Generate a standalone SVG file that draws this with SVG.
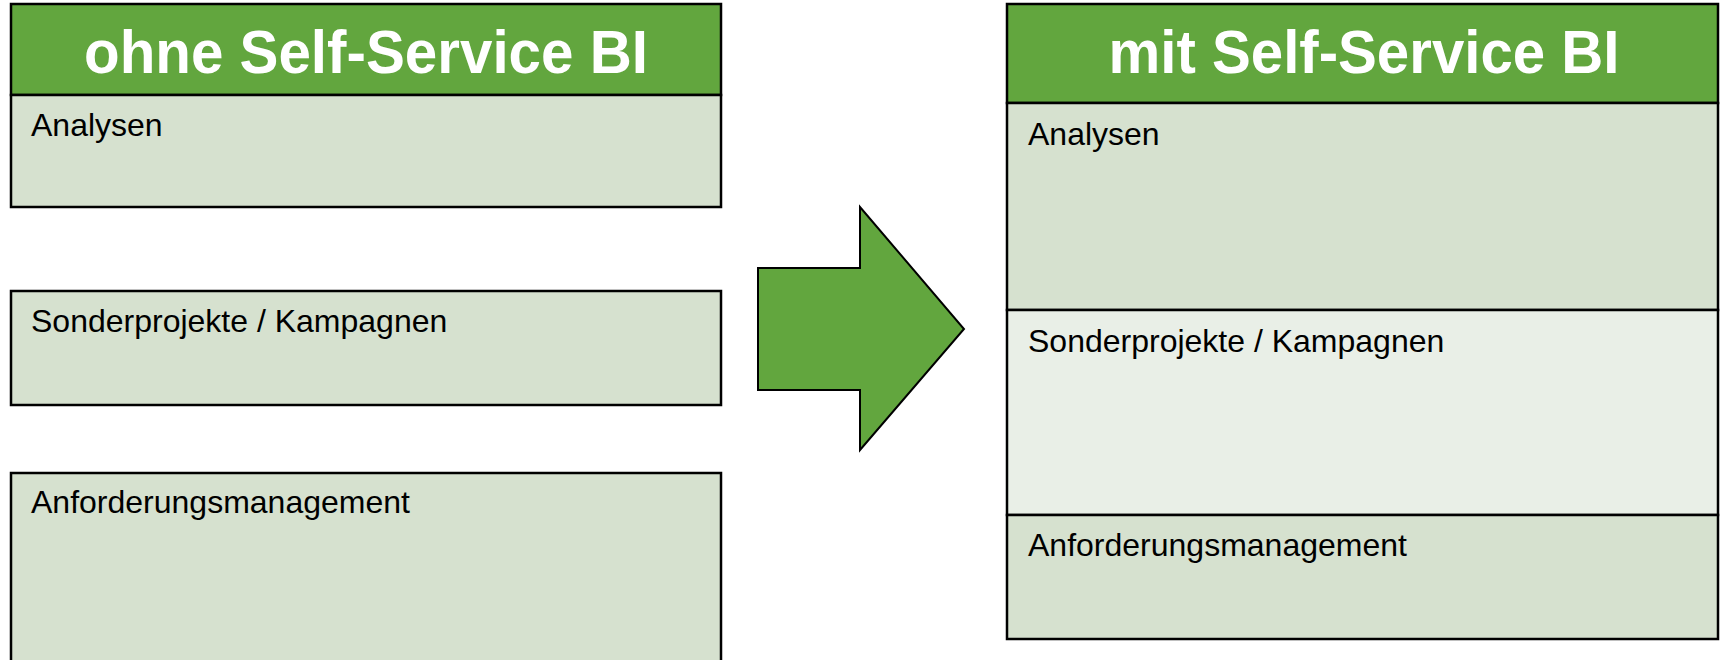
<svg xmlns="http://www.w3.org/2000/svg" width="1721" height="660" viewBox="0 0 1721 660">
<style>
.hdr{fill:#62A63E;stroke:#000;stroke-width:2.5}
.box{fill:#D6E1CF;stroke:#000;stroke-width:2.5}
.box2{fill:#E9EFE7;stroke:#000;stroke-width:2.5}
.title{font-family:"Liberation Sans",Arial,sans-serif;font-weight:bold;font-size:61px;fill:#fff;text-anchor:middle}
.lbl{font-family:"Liberation Sans",Arial,sans-serif;font-size:32px;fill:#000}
</style>
<rect width="1721" height="660" fill="#fff"/>
<g id="left-header">
<rect class="hdr" x="11" y="4" width="710" height="91"/>
<text class="title" x="366" y="73" textLength="564" lengthAdjust="spacingAndGlyphs">ohne Self-Service BI</text>
</g>
<g id="left-analysen">
<rect class="box" x="11" y="95" width="710" height="112"/>
<text class="lbl" x="31" y="136">Analysen</text>
</g>
<g id="left-sonderprojekte">
<rect class="box" x="11" y="291" width="710" height="114"/>
<text class="lbl" x="31" y="332">Sonderprojekte / Kampagnen</text>
</g>
<g id="left-anforderung">
<rect class="box" x="11" y="473" width="710" height="200"/>
<text class="lbl" x="31" y="513">Anforderungsmanagement</text>
</g>
<g id="connectors">
<polygon points="758,268 860,268 860,207 964,329 860,450 860,390 758,390" fill="#62A63E" stroke="#000" stroke-width="2"/>
</g>
<g id="right-header">
<rect class="hdr" x="1007" y="4" width="711" height="99"/>
<text class="title" x="1364" y="73" textLength="511" lengthAdjust="spacingAndGlyphs">mit Self-Service BI</text>
</g>
<g id="right-analysen">
<rect class="box" x="1007" y="103" width="711" height="207"/>
<text class="lbl" x="1028" y="145">Analysen</text>
</g>
<g id="right-sonderprojekte">
<rect class="box2" x="1007" y="310" width="711" height="205"/>
<text class="lbl" x="1028" y="352">Sonderprojekte / Kampagnen</text>
</g>
<g id="right-anforderung">
<rect class="box" x="1007" y="515" width="711" height="124"/>
<text class="lbl" x="1028" y="556">Anforderungsmanagement</text>
</g>
</svg>
